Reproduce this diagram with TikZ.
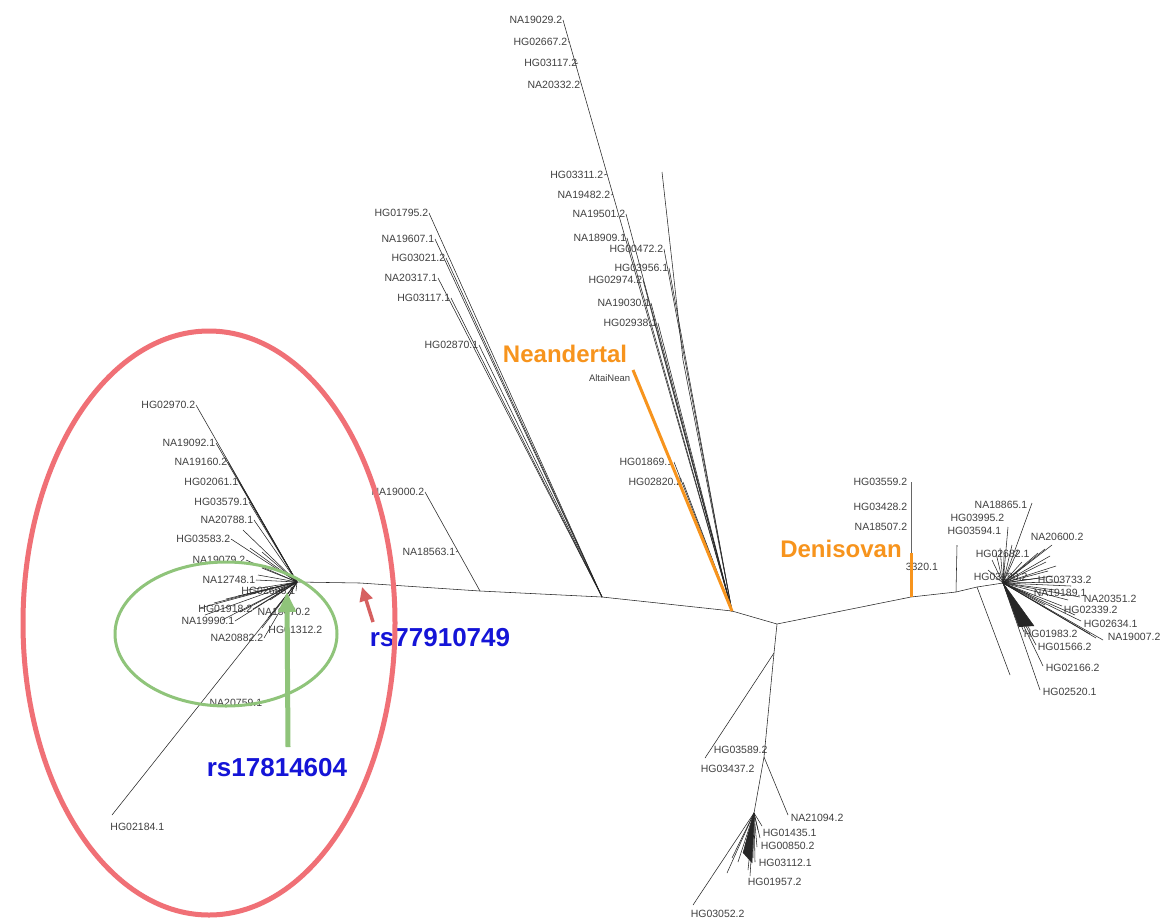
\documentclass[tikz,border=0pt]{standalone}
\usepackage{fontspec}
\setmainfont{Liberation Sans}
\usetikzlibrary{calc,arrows.meta}
\definecolor{orng}{RGB}{247,148,29}
\definecolor{redell}{RGB}{240,112,118}
\definecolor{grnell}{RGB}{143,196,122}
\definecolor{rsblue}{RGB}{20,20,215}
\definecolor{redarr}{RGB}{214,96,96}
\newcommand\labfont{\fontsize{10.5}{12}\selectfont}
\newcommand\bigfont{\fontsize{24}{27}\selectfont\bfseries}
\newcommand\rsfont{\fontsize{26}{29}\selectfont\bfseries}
\tikzset{
  lab/.style={font=\labfont, text=black!75, inner sep=0.6pt},
  labE/.style={lab, anchor=east},
  labW/.style={lab, anchor=west},
  br/.style={line width=0.55pt, draw=black!85},
  orline/.style={draw=orng, line width=3pt},
  bigor/.style={font=\bigfont, text=orng, inner sep=0pt},
  rslab/.style={font=\rsfont, text=rsblue, inner sep=0pt},
}
\begin{document}
\begin{tikzpicture}[x=1pt,y=-1pt]
\useasboundingbox (0,0) rectangle (1175,922);
\fill[white] (0,0) rectangle (1175,922);

% ---------- backbone coordinates ----------
\coordinate (LH) at (297,582);
\coordinate (B1) at (360,583);
\coordinate (B2) at (480,591);
\coordinate (B3) at (602,597);
\coordinate (NJ) at (732,611);
\coordinate (C) at (777,624);
\coordinate (DJ) at (911,597);
\coordinate (DT) at (911,553);
\coordinate (DG) at (911,482);
\coordinate (R1) at (956,592);
\coordinate (R1t) at (957,545);
\coordinate (R2) at (977,587);
\coordinate (R2e) at (1010,675);
\coordinate (RH) at (1003,583);
\coordinate (BJ1) at (774,653);
\coordinate (BJ1e) at (705,758);
\coordinate (BJ2) at (764,757);
\coordinate (BJ2e) at (788,815);
\coordinate (BH) at (754,813);
\coordinate (NT) at (633,370);
\coordinate (NL2a) at (662,172);
\coordinate (NL2b) at (683,360);
\coordinate (LE) at (112,815);

% ---------- labels: top cluster ----------
\node[labE] (t1) at (563,20) {NA19029.2};
\draw[br] (t1.east) -- (NJ);
\foreach \n/\x/\y/\t in {t2/568/42/HG02667.2, t3/578/63/HG03117.2, t4/581/85/NA20332.2,
  m1/604/175/HG03311.2, m2/611/195/NA19482.2}
  {\node[labE] (\n) at (\x,\y) {\t};
   \draw[br] (\n.east) -- ($(t1.east)!(\n.east)!(NJ)$);}
\foreach \n/\x/\y/\t in {m3/626/214/NA19501.2, m4/627/238/NA18909.1,
  m5/664/249/HG00472.2, m6/669/268/HG03956.1, m7/643/280/HG02974.2, m8/651/303/NA19030.1,
  m9/658/323/HG02938.1, m10/674/462/HG01869.1, m11/683/482/HG02820.2}
  {\node[labE] (\n) at (\x,\y) {\t};
   \draw[br] (\n.east) -- (NJ);}
\draw[br] (NL2a) -- (NL2b) -- (NJ);
\node[labE, font=\fontsize{9.5}{11}\selectfont] (altai) at (631,378) {AltaiNean};

% ---------- labels: HG01795 cluster ----------
\foreach \n/\x/\y/\t in {h1/429/213/HG01795.2, h2/435/239/NA19607.1, h3/446/258/HG03021.2,
  h4/438/278/NA20317.1, h5/451/298/HG03117.1, h6/479/345/HG02870.1}
  {\node[labE] (\n) at (\x,\y) {\t};
   \draw[br] (\n.east) -- (B3);}

\node[labE] (na19000) at (425,492) {NA19000.2};
\draw[br] (na19000.east) -- (B2);
\node[labE] (na18563) at (456,552) {NA18563.1};
\draw[br] (na18563.east) -- ($(na19000.east)!(na18563.east)!(B2)$);

% ---------- left cluster ----------
\foreach \n/\x/\y/\t in {l1/196/405/HG02970.2, l2/216/443/NA19092.1, l3/228/462/NA19160.2,
  l4/239/482/HG02061.1, l5/249/502/HG03579.1, l6/254/520/NA20788.1, l7/231/539/HG03583.2,
  l8/246/560/NA19079.2, l9/256/580/NA12748.1, l10/296/591/HG02696.1, l11/253/609/HG01918.2,
  l12/235/621/NA19990.1, l13/264/638/NA20882.2}
  {\node[labE] (\n) at (\x,\y) {\t};
   \draw[br] (\n.east) -- (LH);}
\node[labE] (l14) at (311,612) {NA19470.2};
\node[labE] (l15) at (323,630) {HG01312.2};
\node[labE] (l16) at (263,703) {NA20759.1};
\node[labE] (l17) at (165,827) {HG02184.1};
\draw[br] (LE) -- (LH);
\foreach \x/\y [count=\i] in {200/608, 214/603, 226/599, 238/596, 222/620, 240/612, 205/615,
  262/628, 268/618, 280/612, 248/590, 258/575, 262/568, 250/548, 262/552, 243/530, 270/600, 275/592}
  {\coordinate (lf\i) at (\x,\y); \draw[br] (LH) -- (lf\i);}

% ---------- right cluster ----------
\foreach \n/\x/\y/\t in {r1/1028/505/NA18865.1, r2/1005/518/HG03995.2, r3/1002/531/HG03594.1}
  {\node[labE] (\n) at (\x,\y) {\t};}
\foreach \n/\x/\y/\t in {r4/1030/537/NA20600.2, r5/975/554/HG02682.1, r6/973/577/HG03190.2,
  r7/1037/580/HG03733.2, r8/1033/593/NA19189.1, r9/1083/599/NA20351.2, r10/1063/610/HG02339.2,
  r11/1083/624/HG02634.1, r12/1107/637/NA19007.2, r13/1023/634/HG01983.2, r14/1037/647/HG01566.2,
  r15/1045/668/HG02166.2, r16/1042/692/HG02520.1}
  {\node[labW] (\n) at (\x,\y) {\t};}
\node[labE] (r17) at (908,527) {NA18507.2};
\node[labE] (r18) at (908,507) {HG03428.2};
\node[labE] (r19) at (908,482) {HG03559.2};
\node[labW] (r20) at (905,567) {3320.1};
\foreach \x/\y [count=\i] in {1032/503, 1008/527, 1052/545, 1045/549, 1038/553, 1050/556, 1046/562,
  1056/566, 1048/571, 1053/576, 1040/578, 1062/582, 1071/586, 1055/590, 1080/597, 1062/606,
  1081/621, 1103/640, 1096/638, 1090/634, 1024/632, 1030/630, 1019/627, 1034/626, 1036/645,
  1043/666, 1040/690, 992/560, 996/553, 988/570, 1000/548, 1004/556, 1012/545, 1018/550,
  1022/562, 1068/600, 1075/615, 1030/595, 1045/605}
  {\coordinate (re\i) at (\x,\y); \draw[br] (RH) -- (re\i);}
\fill[black!85] (RH) -- (re23) -- (re24) -- cycle;

% ---------- bottom cluster ----------
\foreach \n/\x/\y/\t in {b1/713/750/HG03589.2, b2/700/769/HG03437.2, b3/790/818/NA21094.2,
  b4/762/833/HG01435.1, b5/760/846/HG00850.2, b6/758/863/HG03112.1, b7/747/882/HG01957.2,
  b8/690/914/HG03052.2}
  {\node[labW] (\n) at (\x,\y) {\t};}
\foreach \x/\y [count=\i] in {693/905, 727/873, 732/858, 738/862, 743/853, 748/870, 752/863,
  755/862, 757/847, 760/838, 758/830, 753/858, 745/846, 750/876, 762/826}
  {\coordinate (be\i) at (\x,\y); \draw[br] (BH) -- (be\i);}
\fill[black!85] (BH) -- (be5) -- (be7) -- cycle;

% ---------- backbone ----------
\draw[br] (LH) -- (B1) -- (B2) -- (B3) -- (NJ) -- (C) -- (DJ) -- (R1) -- (R2) -- (RH);
\draw[br] (C) -- (BJ1) -- (BJ2) -- (BH);
\draw[br] (BJ1) -- (BJ1e);
\draw[br] (BJ2) -- (BJ2e);
\draw[br] (R1) -- (R1t);
\draw[br] (R2) -- (R2e);
\draw[br, draw=black!60] (DG) -- (DT);
\draw[orline] (DT) -- (DJ);
\draw[orline] (NT) -- (NJ);

% ---------- big labels ----------
\node[bigor] (neand) at (565,354) {Neandertal};
\node[bigor] (deniso) at (841,549) {Denisovan};
\node[rslab] (rs779) at (440,638) {rs77910749};
\node[rslab] (rs178) at (277,768) {rs17814604};

% ---------- ellipses and arrows ----------
\coordinate (RE) at (209,623);
\coordinate (GE) at (226,634);
\draw[redell, line width=5pt] (RE) ellipse [x radius=186pt, y radius=292pt];
\draw[grnell, line width=3pt] (GE) ellipse [x radius=111pt, y radius=72pt];
\coordinate (GA0) at (288,747);
\coordinate (GA1) at (287,592);
\draw[grnell, line width=5pt, -{Triangle[width=17pt,length=20pt]}] (GA0) -- (GA1);
\coordinate (RA0) at (373,622);
\coordinate (RA1) at (362,587);
\draw[redarr, line width=3.5pt, -{Triangle[width=13pt,length=14pt]}] (RA0) -- (RA1);
\end{tikzpicture}
\end{document}
